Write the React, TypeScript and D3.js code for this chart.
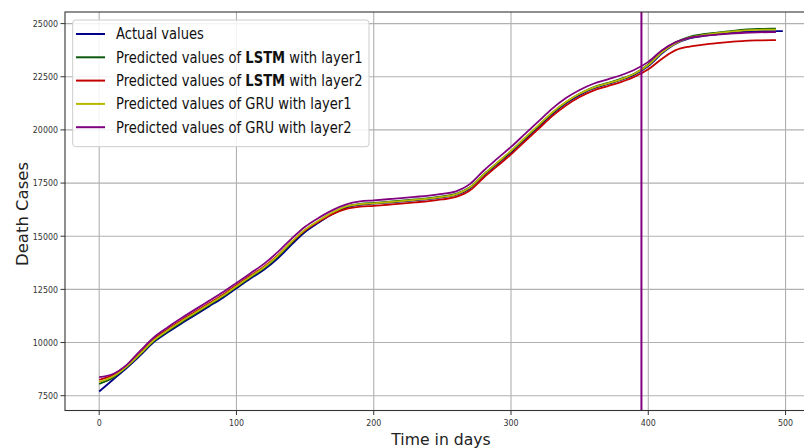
import React from "react";
import * as d3 from "d3";

const actualDays = [0,10,20,30,40,50,60,70,80,90,100,110,120,130,140,150,160,170,180,190,200,210,220,230,240,250,260,270,280,290,300,310,320,330,340,350,360,370,380,390,400,410,420,430,440,450,460,470,480,490,498];
const predDays = [0,10,20,30,40,50,60,70,80,90,100,110,120,130,140,150,160,170,180,190,200,210,220,230,240,250,260,270,280,290,300,310,320,330,340,350,360,370,380,390,400,410,420,430,440,450,460,470,480,490,493];

const actual = [7700,8250,8800,9400,10030,10480,10900,11300,11700,12100,12550,13000,13420,13950,14600,15200,15650,16050,16350,16480,16530,16580,16630,16690,16750,16830,16950,17250,17850,18400,18950,19550,20150,20750,21250,21650,21950,22150,22350,22600,23000,23600,24050,24300,24420,24500,24570,24620,24640,24650,24650];
const lstm1 = [8060,8340,8850,9450,10080,10540,10960,11360,11760,12160,12610,13060,13490,14030,14680,15270,15710,16100,16390,16520,16570,16620,16670,16730,16790,16870,16990,17300,17900,18450,19000,19600,20200,20800,21300,21700,22000,22200,22400,22650,23080,23700,24120,24380,24500,24580,24650,24720,24750,24760,24760];
const lstm2 = [8250,8470,8900,9530,10170,10630,11050,11450,11850,12250,12700,13140,13570,14100,14720,15280,15690,16040,16290,16390,16430,16480,16530,16590,16650,16730,16850,17150,17750,18300,18850,19450,20050,20650,21150,21550,21850,22050,22250,22500,22850,23350,23750,23920,24010,24080,24140,24190,24210,24220,24220];
const gru1 = [8150,8400,8870,9480,10120,10580,11000,11400,11800,12200,12650,13100,13530,14080,14730,15310,15740,16120,16400,16510,16550,16600,16650,16710,16770,16850,16970,17290,17900,18460,19020,19620,20220,20820,21310,21700,21990,22180,22380,22640,23050,23650,24080,24340,24460,24550,24620,24680,24710,24720,24720];
const gru2 = [8370,8520,8950,9620,10250,10720,11150,11560,11960,12360,12800,13250,13700,14250,14880,15450,15870,16230,16500,16640,16690,16740,16790,16850,16910,16990,17110,17450,18080,18650,19200,19800,20400,21000,21500,21880,22170,22370,22570,22830,23200,23750,24130,24330,24420,24480,24530,24570,24590,24600,24600];

const splitDay = 395;
const xTicks = [0, 100, 200, 300, 400, 500];
const yTicks = [7500, 10000, 12500, 15000, 17500, 20000, 22500, 25000];
const xDomain = [-24.9, 522.9];
const yDomain = [6804, 25546];

const seriesNames = [
  "Actual values",
  "Predicted values of LSTM with layer1",
  "Predicted values of LSTM with layer2",
  "Predicted values of GRU with layer1",
  "Predicted values of GRU with layer2",
];
const seriesColors = ["#00008b", "#0b5a0b", "#c40000", "#b8b800", "#800080"];

const FONT = "DejaVu Sans, sans-serif";

export default function App() {
  const W = 804, H = 448;
  const left = 65, right = 817, top = 12, bottom = 410.5;
  const x = d3.scaleLinear().domain(xDomain).range([left, right]);
  const y = d3.scaleLinear().domain(yDomain).range([bottom, top]);

  const series = [
    { days: actualDays, vals: actual },
    { days: predDays, vals: lstm1 },
    { days: predDays, vals: lstm2 },
    { days: predDays, vals: gru1 },
    { days: predDays, vals: gru2 },
  ];

  const line = d3
    .line<[number, number]>()
    .x((d) => x(d[0]))
    .y((d) => y(d[1]))
    .curve(d3.curveMonotoneX);

  const legendRowY = (i: number) => 34 + i * 23.3;

  return (
    <svg
      width={W}
      height={H}
      style={{ position: "absolute", left: 0, top: 0, background: "#fff" }}
      fontFamily={FONT}
    >
      <defs>
        <clipPath id="plot">
          <rect x={left} y={top} width={right - left} height={bottom - top} />
        </clipPath>
      </defs>
      <rect x={0} y={0} width={W} height={H} fill="#fff" />
      {/* grid */}
      <g stroke="#b0b0b0" strokeWidth={1.1}>
        {xTicks.map((t) => (
          <line key={"gx" + t} x1={x(t)} x2={x(t)} y1={top} y2={bottom} />
        ))}
        {yTicks.map((t) => (
          <line key={"gy" + t} x1={left} x2={right} y1={y(t)} y2={y(t)} />
        ))}
      </g>
      {/* series */}
      <g clipPath="url(#plot)" fill="none" strokeWidth={1.8} strokeLinejoin="round">
        {series.map((s, i) => (
          <path
            key={i}
            d={line(s.days.map((d, j) => [d, s.vals[j]] as [number, number])) || ""}
            stroke={seriesColors[i]}
          />
        ))}
      </g>
      {/* split line */}
      <line
        x1={x(splitDay)}
        x2={x(splitDay)}
        y1={top}
        y2={bottom}
        stroke="#800080"
        strokeWidth={2}
      />
      {/* frame */}
      <rect
        x={left}
        y={top}
        width={right - left}
        height={bottom - top}
        fill="none"
        stroke="#333"
        strokeWidth={1.1}
      />
      {/* y ticks */}
      <g>
        {yTicks.map((t) => (
          <g key={"yt" + t}>
            <line x1={left - 4.5} x2={left} y1={y(t)} y2={y(t)} stroke="#333" strokeWidth={1} />
            <text
              transform={`translate(${left - 7},${y(t) + 3.3}) scale(0.86,1)`}
              textAnchor="end"
              fontSize={9.2}
              fill="#333"
            >
              {t}
            </text>
          </g>
        ))}
      </g>
      {/* x ticks */}
      <g>
        {xTicks.map((t) => (
          <g key={"xt" + t}>
            <line x1={x(t)} x2={x(t)} y1={bottom} y2={bottom + 4.5} stroke="#333" strokeWidth={1} />
            <text
              transform={`translate(${x(t)},${bottom + 15}) scale(0.86,1)`}
              textAnchor="middle"
              fontSize={9.2}
              fill="#333"
            >
              {t}
            </text>
          </g>
        ))}
      </g>
      {/* axis labels */}
      <text
        transform={`translate(441,445) scale(0.95,1)`}
        textAnchor="middle"
        fontSize={16.5}
        fill="#222"
      >
        Time in days
      </text>
      <text
        transform={`translate(28,214) rotate(-90) scale(1,0.95)`}
        textAnchor="middle"
        fontSize={16.5}
        fill="#222"
      >
        Death Cases
      </text>
      {/* legend */}
      <g>
        <rect
          x={72.7}
          y={20}
          width={296.3}
          height={126.7}
          rx={3}
          fill="#fff"
          fillOpacity={0.85}
          stroke="#cccccc"
          strokeWidth={1}
        />
        {seriesNames.map((name, i) => {
          const ry = legendRowY(i);
          const bold = name.indexOf("LSTM") >= 0;
          const parts = bold ? name.split("LSTM") : [name];
          return (
            <g key={"lg" + i}>
              <line x1={76} x2={105} y1={ry} y2={ry} stroke={seriesColors[i]} strokeWidth={2} />
              <text
                transform={`translate(116,${ry + 5.3}) scale(0.875,1)`}
                fontSize={15}
                fill="#111"
              >
                {bold ? (
                  <>
                    {parts[0]}
                    <tspan fontWeight="bold">LSTM</tspan>
                    {parts[1]}
                  </>
                ) : (
                  name
                )}
              </text>
            </g>
          );
        })}
      </g>
    </svg>
  );
}
